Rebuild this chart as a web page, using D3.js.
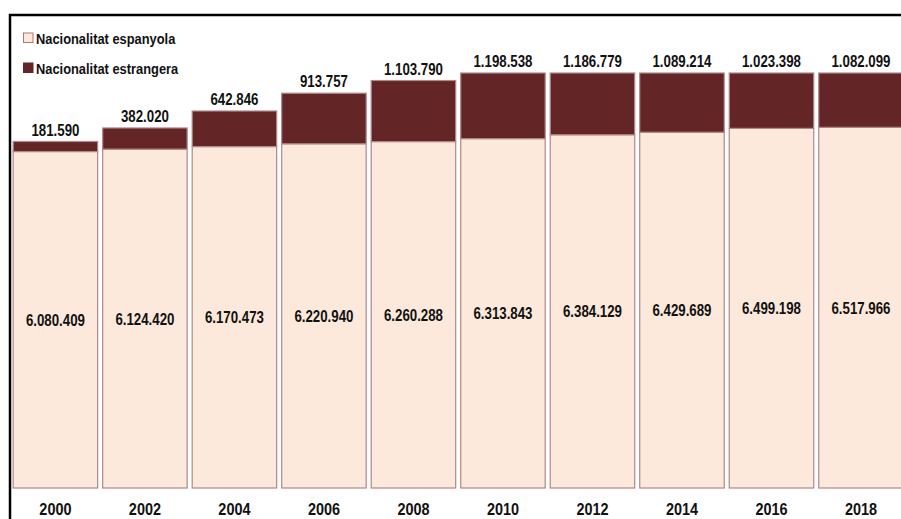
<!DOCTYPE html>
<html>
<head>
<meta charset="utf-8">
<script src="https://cdn.jsdelivr.net/npm/d3@7"></script>
<style>
html,body{margin:0;padding:0;background:#fff;overflow:hidden;}
svg{display:block;}
text{font-family:"Liberation Sans",Arial,sans-serif;font-weight:bold;fill:#111;}
</style>
</head>
<body>
<svg id="chart" width="901" height="519"></svg>
<script>
const years = ["2000","2002","2004","2006","2008","2010","2012","2014","2016","2018"];
const spanish = [6080409,6124420,6170473,6220940,6260288,6313843,6384129,6429689,6499198,6517966];
const foreign = [181590,382020,642846,913757,1103790,1198538,1186779,1089214,1023398,1082099];
const seriesNames = ["Nacionalitat espanyola","Nacionalitat estrangera"];

const fmt = v => d3.format(",")(v).replace(/,/g, ".");
const colSp = "#FDE9DB", colFo = "#632526", strokeCol = "#B0878A";
const squeeze = 0.83;

const svg = d3.select("#chart");

const x = d3.scaleBand().domain(years).range([10.7, 905.7]).paddingInner(0.045).paddingOuter(0.022);
const y = d3.scaleLinear().domain([0, 7500000]).range([488, 73]).clamp(true);

const data = years.map((yr, i) => ({yr, sp: spanish[i], fo: foreign[i], tot: spanish[i] + foreign[i]}));

// place a horizontally condensed text at (px, py)
function label(parent, px, py, str, size, anchor, f) {
  return parent.append("text")
    .attr("transform", `translate(${px},${py}) scale(${f},1)`)
    .attr("text-anchor", anchor).attr("font-size", size).text(str);
}

// frame
svg.append("rect").attr("x", 10).attr("y", 15).attr("width", 1000).attr("height", 600)
  .attr("fill", "none").attr("stroke", "#000").attr("stroke-width", 2.5);

const g = svg.append("g");
g.selectAll("rect.sp").data(data).join("rect").attr("class","sp")
  .attr("x", d => x(d.yr) + 0.5).attr("width", x.bandwidth() - 1)
  .attr("y", d => y(d.sp)).attr("height", d => y(0) - y(d.sp))
  .attr("fill", colSp).attr("stroke", strokeCol).attr("stroke-width", 1.2);
g.selectAll("rect.fo").data(data).join("rect").attr("class","fo")
  .attr("x", d => x(d.yr) + 0.5).attr("width", x.bandwidth() - 1)
  .attr("y", d => y(d.tot)).attr("height", d => y(d.sp) - y(d.tot))
  .attr("fill", colFo).attr("stroke", strokeCol).attr("stroke-width", 1.2);

data.forEach(d => {
  const cx = x(d.yr) + x.bandwidth() / 2;
  label(g, cx, (y(d.sp) + y(0)) / 2 + 6, fmt(d.sp), 16, "middle", squeeze);
  label(g, cx, y(d.tot) - 6, fmt(d.fo), 16, "middle", squeeze);
});

// x axis labels
const xAxis = d3.axisBottom(x).tickSize(0).tickPadding(0);
const ax = svg.append("g").attr("transform", `translate(0,503)`).call(xAxis);
ax.select(".domain").remove();
ax.selectAll("text").attr("font-size", 17).attr("fill", "#111")
  .attr("font-family", "Liberation Sans, Arial, sans-serif").attr("font-weight", "bold")
  .attr("dy", "0.71em").attr("transform", "scale(0.85,1)")
  .attr("x", 0);
ax.selectAll(".tick").each(function(){
  // keep tick position, condense glyphs around tick center
});

// legend
const leg = svg.append("g");
const legY = [38, 68];
seriesNames.forEach((name, i) => {
  leg.append("rect").attr("x", 23.5).attr("y", legY[i] - 5).attr("width", 9.5).attr("height", 9.5)
    .attr("fill", i === 0 ? colSp : colFo).attr("stroke", i === 0 ? "#A87878" : colFo).attr("stroke-width", 1);
  label(leg, 36, legY[i] + 5.5, name, 15.5, "start", squeeze);
});
</script>
</body>
</html>
